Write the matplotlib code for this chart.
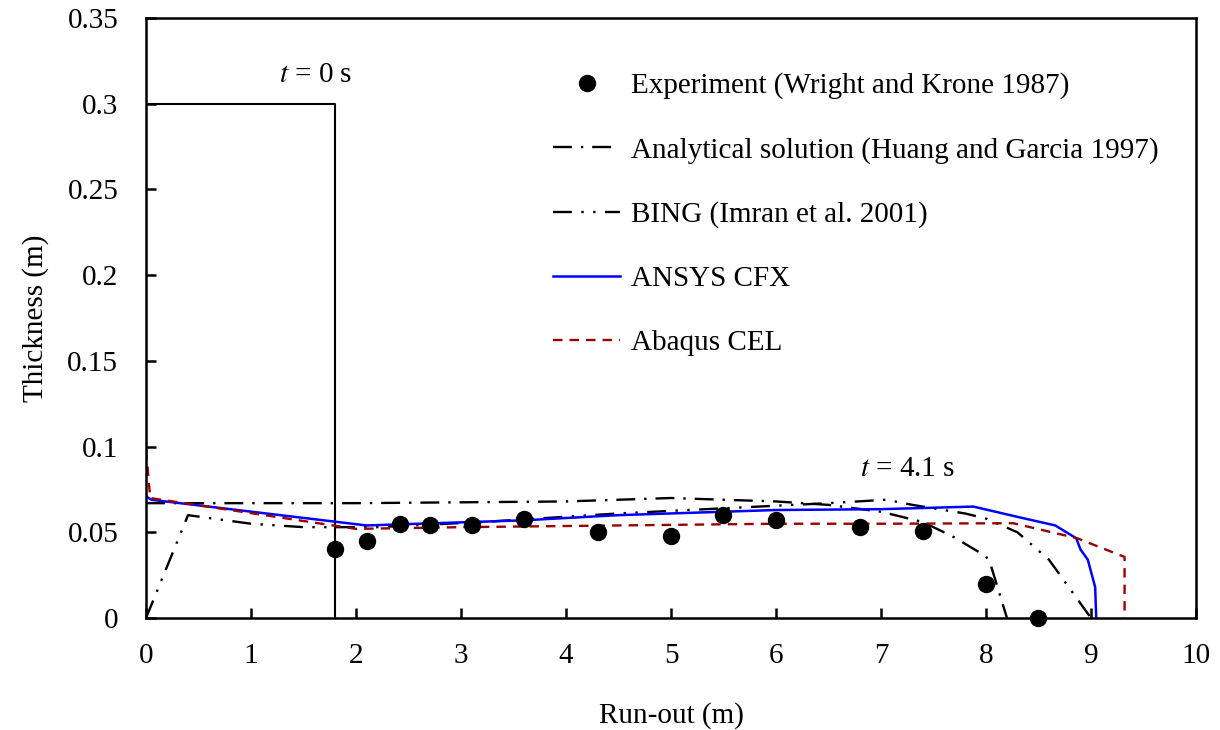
import numpy as np
import matplotlib.pyplot as plt
from matplotlib.lines import Line2D

# gravity current thickness profiles at t = 4.1 s, plus initial lock at t = 0 s
lock_x = [0.0, 1.8, 1.8]
lock_h = [0.30, 0.30, 0.0]

exp_x = [1.8, 2.1, 2.42, 2.7, 3.1, 3.6, 4.3, 5.0, 5.5, 6.0, 6.8, 7.4, 8.0, 8.5]
exp_h = [0.040, 0.045, 0.055, 0.054, 0.054, 0.058, 0.050, 0.048, 0.060, 0.057,
         0.053, 0.051, 0.020, 0.0]

ana_x = [0.0, 2.0, 4.0, 5.0, 6.0, 6.5, 7.0, 7.4, 7.7, 8.0, 8.05, 8.2]
ana_h = [0.067, 0.067, 0.068, 0.070, 0.068, 0.066, 0.062, 0.056, 0.047, 0.036,
         0.030, 0.0]

bing_x = [0.0, 0.4, 1.0, 1.5, 2.2, 3.2, 4.5, 5.5, 6.5, 7.05, 7.3, 7.8, 8.0, 8.3,
          8.6, 9.0]
bing_h = [0.0, 0.060, 0.055, 0.053, 0.053, 0.056, 0.061, 0.064, 0.067, 0.069,
          0.066, 0.061, 0.058, 0.050, 0.034, 0.0]

cfx_x = [0.0, 0.05, 2.1, 3.6, 4.5, 6.0, 7.0, 7.88, 8.3, 8.66, 8.86, 8.9, 8.97,
         9.04, 9.05]
cfx_h = [0.071, 0.069, 0.054, 0.057, 0.060, 0.0630, 0.0635, 0.065, 0.059, 0.054,
         0.0465, 0.040, 0.034, 0.018, 0.0]

cel_x = [0.0, 0.04, 2.0, 3.0, 4.5, 6.0, 7.0, 8.26, 8.87, 9.32, 9.32]
cel_h = [0.098, 0.070, 0.052, 0.053, 0.054, 0.055, 0.055, 0.0553, 0.0465, 0.0356, 0.0]

labels = ["Experiment (Wright and Krone 1987)",
          "Analytical solution (Huang and Garcia 1997)",
          "BING (Imran et al. 2001)",
          "ANSYS CFX",
          "Abaqus CEL"]

plt.rcParams["font.family"] = ["Liberation Serif", "DejaVu Serif"]
plt.rcParams["mathtext.fontset"] = "stix"
FS = 21

fig = plt.figure(figsize=(12.2, 7.3), dpi=100)
ax = fig.add_axes([0.1197, 0.1534, 0.8606, 0.8219])

red = "#990000"
dash_ana = (0, (8, 3.8, 1, 3.8))
dash_bing = (0, (8, 4, 1, 4, 1, 4))

ax.plot(lock_x, lock_h, color="black", lw=1.5)
ax.plot(ana_x, ana_h, color="black", lw=1.7, linestyle=dash_ana)
ax.plot(bing_x, bing_h, color="black", lw=1.7, linestyle=dash_bing)
ax.plot(cfx_x, cfx_h, color="#0000ff", lw=1.8)
ax.plot(cel_x, cel_h, color=red, lw=1.7, linestyle=(0, (4, 3)))
ax.plot(exp_x, exp_h, "o", color="black", ms=11.5, clip_on=False, zorder=5)

ax.text(1.62, 0.317, r"$t$ = 0 s", fontsize=FS, ha="center", va="center")
ax.text(7.25, 0.087, r"$t$ = 4.1 s", fontsize=FS, ha="center", va="center")

handles = [
    Line2D([], [], marker="o", color="black", ls="none", ms=11.5),
    Line2D([], [], color="black", lw=1.7, linestyle=dash_ana),
    Line2D([], [], color="black", lw=1.7, linestyle=dash_bing),
    Line2D([], [], color="#0000ff", lw=1.8),
    Line2D([], [], color=red, lw=1.7, linestyle=(0, (4, 3))),
]
ax.legend(handles, labels, loc="upper left", bbox_to_anchor=(0.374, 0.934),
          frameon=False, fontsize=FS, handlelength=2.3, handletextpad=0.38,
          labelspacing=1.29, borderpad=0)

ax.set_xlim(0, 10)
ax.set_ylim(0, 0.35)
ax.set_xticks(np.arange(0, 11, 1))
ax.set_yticks([0, 0.05, 0.1, 0.15, 0.2, 0.25, 0.3, 0.35])
ax.set_yticklabels(["0", "0.05", "0.1", "0.15", "0.2", "0.25", "0.3", "0.35"])
ax.tick_params(axis="both", direction="in", length=7, width=1.8, labelsize=FS)
ax.tick_params(axis="y", pad=20)
ax.tick_params(axis="x", pad=18)
for side in ["left", "right", "top", "bottom"]:
    ax.spines[side].set_linewidth(1.8)

ax.set_xlabel("Run-out (m)", fontsize=FS, labelpad=24)
ax.set_ylabel("Thickness (m)", fontsize=FS, labelpad=13)

fig.savefig("out.png", dpi=100)
